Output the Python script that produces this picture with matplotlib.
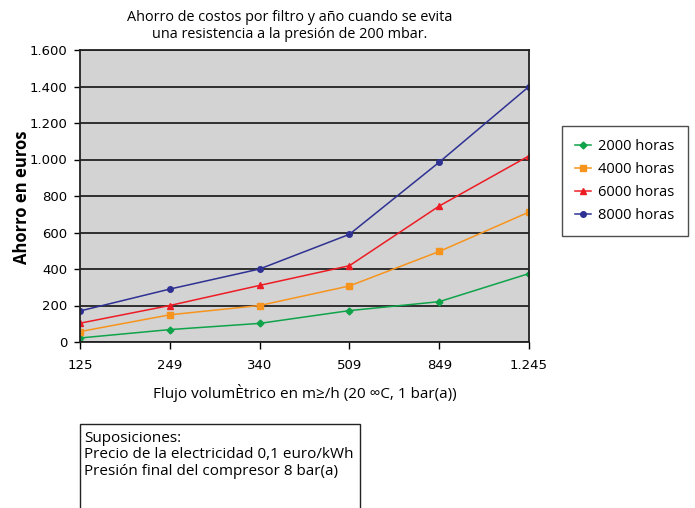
import matplotlib
matplotlib.use('Agg')
import matplotlib.pyplot as plt
from matplotlib.patches import Rectangle

# data
caudal = ['125', '249', '340', '509', '849', '1.245']
h2000 = [22, 68, 102, 172, 221, 375]
h4000 = [57, 149, 200, 307, 496, 712]
h6000 = [103, 200, 310, 418, 745, 1020]
h8000 = [170, 290, 400, 590, 985, 1400]
series_names = ['2000 horas', '4000 horas', '6000 horas', '8000 horas']
y_ticks = [0, 200, 400, 600, 800, 1000, 1200, 1400, 1600]
y_labels = ['0', '200', '400', '600', '800', '1.000', '1.200', '1.400', '1.600']

main_font = 'Open Sans'
tick_font = 'Liberation Sans Narrow'

fig = plt.figure(figsize=(6.95, 5.08), dpi=100)
ax = fig.add_axes([80 / 695, 1 - 342 / 508, 449 / 695, 292 / 508])
ax.set_facecolor('#D3D3D3')

x = list(range(len(caudal)))
ax.plot(x, h2000, color='#0FA34A', marker='D', ms=3.5, lw=1.1, label=series_names[0])
ax.plot(x, h4000, color='#F7941D', marker='s', ms=4, lw=1.1, label=series_names[1])
ax.plot(x, h6000, color='#ED1C24', marker='^', ms=5, lw=1.1, label=series_names[2])
ax.plot(x, h8000, color='#2E3192', marker='o', ms=4, lw=1.1, label=series_names[3])

ax.set_xlim(0, len(caudal) - 1)
ax.set_ylim(0, 1600)
ax.set_yticks(y_ticks)
ax.set_yticklabels(y_labels, fontfamily=tick_font, fontsize=9.5)
ax.set_xticks(x)
ax.set_xticklabels(caudal, fontfamily=tick_font, fontsize=9.5)
ax.tick_params(axis='y', length=4, width=1, pad=5)
ax.tick_params(axis='x', length=5, width=1, pad=7)
ax.grid(axis='y', color='#222222', lw=1.3)
ax.set_axisbelow(True)
for s in ax.spines.values():
    s.set_color('#222222')
    s.set_linewidth(1.3)

fig.text(290 / 695, 1 - 26 / 508,
         'Ahorro de costos por filtro y año cuando se evita\nuna resistencia a la presión de 200 mbar.',
         ha='center', va='center', fontfamily=main_font, fontsize=10.4, linespacing=1.1)
ax.set_xlabel('Flujo volumÈtrico en m≥/h (20 ∞C, 1 bar(a))',
              fontfamily=main_font, fontsize=11, labelpad=9)
fig.text(22 / 695, 1 - 197 / 508, 'Ahorro en euros', rotation=90, ha='center', va='center',
         fontfamily=main_font, fontsize=12, fontweight='bold')

leg = fig.legend(loc='upper left', bbox_to_anchor=(562 / 695, 1 - 126 / 508),
                 prop={'family': main_font, 'size': 10.5}, frameon=True, fancybox=False,
                 edgecolor='#222222', handlelength=1.1, handletextpad=0.5,
                 borderpad=0.9, labelspacing=0.55, borderaxespad=0)
leg.get_frame().set_linewidth(1.0)

fig.patches.append(Rectangle((80 / 695, -0.01), 280 / 695, (508 - 424) / 508 + 0.01,
                             transform=fig.transFigure, fill=False, edgecolor='#222222', lw=1.0))
fig.text(84 / 695, 1 - 431 / 508,
         'Suposiciones:\nPrecio de la electricidad 0,1 euro/kWh\nPresión final del compresor 8 bar(a)',
         ha='left', va='top', fontfamily=main_font, fontsize=11, linespacing=1.12)

fig.savefig('out.png', dpi=100)
